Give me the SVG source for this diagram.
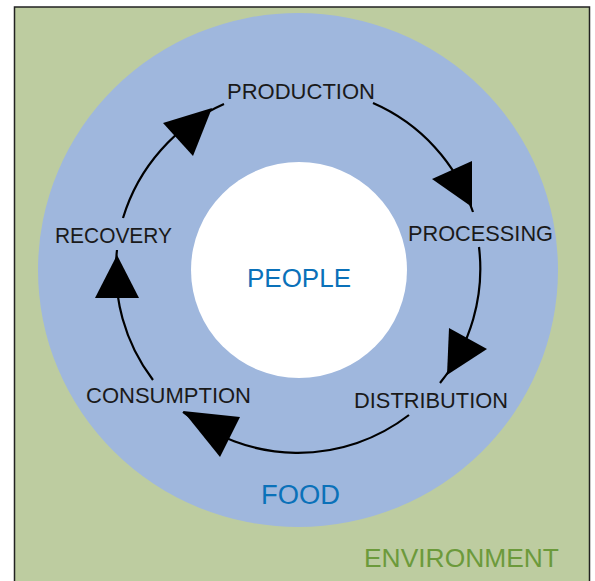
<svg xmlns="http://www.w3.org/2000/svg" width="595" height="581" viewBox="0 0 595 581">
  <style>
    .lbl { font-family: "Liberation Sans", Arial, sans-serif; font-size: 22px; fill: #1a1a1a; }
    .blue { font-family: "Liberation Sans", Arial, sans-serif; fill: #0a71b9; }
    .env { font-family: "Liberation Sans", Arial, sans-serif; font-size: 26px; fill: #6c9a3b; }
    .arc { fill: none; stroke: #000; stroke-width: 2.2; }
    .head { fill: #000; }
  </style>
  <rect x="0" y="0" width="595" height="581" fill="#ffffff"/>
  <g id="environment">
    <rect x="14.5" y="7" width="575" height="590" fill="#bdcca0" stroke="#222" stroke-width="1.5"/>
    <text class="env" x="364" y="567" textLength="195" lengthAdjust="spacingAndGlyphs">ENVIRONMENT</text>
  </g>
  <g id="food">
    <ellipse cx="298" cy="270" rx="260" ry="257" fill="#9fb7dd"/>
    <text class="blue" x="261" y="504" font-size="27" textLength="79" lengthAdjust="spacingAndGlyphs">FOOD</text>
  </g>
  <g id="people">
    <circle cx="299" cy="270" r="108" fill="#ffffff"/>
    <text class="blue" x="247" y="287" font-size="26" textLength="104" lengthAdjust="spacingAndGlyphs">PEOPLE</text>
  </g>
  <g id="production"><text class="lbl" x="227" y="99" textLength="148" lengthAdjust="spacingAndGlyphs">PRODUCTION</text></g>
  <g id="processing"><text class="lbl" x="408" y="241" textLength="145" lengthAdjust="spacingAndGlyphs">PROCESSING</text></g>
  <g id="distribution"><text class="lbl" x="354" y="408" textLength="154" lengthAdjust="spacingAndGlyphs">DISTRIBUTION</text></g>
  <g id="consumption"><text class="lbl" x="86" y="403" textLength="165" lengthAdjust="spacingAndGlyphs">CONSUMPTION</text></g>
  <g id="recovery"><text class="lbl" x="55" y="243" textLength="117" lengthAdjust="spacingAndGlyphs">RECOVERY</text></g>
  <g id="connectors">
    <path class="arc" d="M123,218 A182,182 0 0 1 224,104"/>
    <polygon class="head" points="163,123 193,156 212,108"/>
    <path class="arc" d="M373,103 A182,182 0 0 1 473,212"/>
    <polygon class="head" points="432,179 472,161 472,207"/>
    <path class="arc" d="M479,247 A182,182 0 0 1 440,383"/>
    <polygon class="head" points="449,328 487,349 447,375"/>
    <path class="arc" d="M409,415 A182,182 0 0 1 183,412"/>
    <polygon class="head" points="183,411 240,417 220,457"/>
    <path class="arc" d="M153,380 A182,182 0 0 1 117,250"/>
    <polygon class="head" points="117,255 95,298 139,298"/>
  </g>
</svg>
